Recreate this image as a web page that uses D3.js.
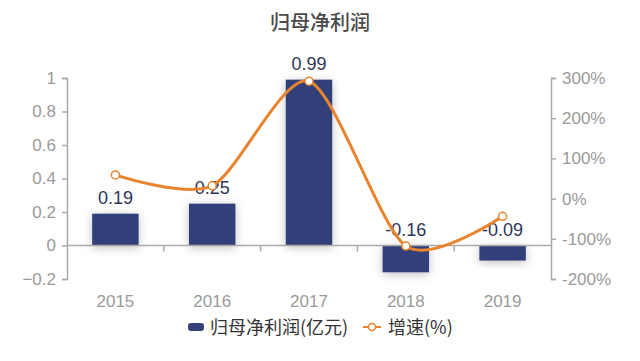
<!DOCTYPE html>
<html>
<head>
<meta charset="utf-8">
<script src="https://cdn.jsdelivr.net/npm/d3@7/dist/d3.min.js"></script>
<style>
  body { margin: 0; background: #fff; }
  text { font-family: "Liberation Sans", Arial, "Noto Sans CJK SC", sans-serif; }
</style>
</head>
<body>
<div id="chart"></div>
<script>
const years = ["2015", "2016", "2017", "2018", "2019"];
const profit = [0.19, 0.25, 0.99, -0.16, -0.09];
const growth = [59, 32, 292, -118, -44];
const leftTicks = [-0.2, 0, 0.2, 0.4, 0.6, 0.8, 1];
const rightTicks = [-200, -100, 0, 100, 200, 300];

const width = 640, height = 361;
const margin = { top: 78, right: 89, bottom: 82, left: 67 };
const innerW = width - margin.left - margin.right;
const innerH = height - margin.top - margin.bottom;

const barColor = "#33407a";
const lineColor = "#e8842e";
const axisColor = "#aaaaaa";
const tickText = "#9a9a9a";

const svg = d3.select("#chart")
    .append("svg")
    .attr("width", width)
    .attr("height", height);

// shadow for the bars
const defs = svg.append("defs");
const f = defs.append("filter").attr("id", "shadow")
    .attr("x", "-50%").attr("y", "-50%").attr("width", "200%").attr("height", "200%");
f.append("feDropShadow").attr("dx", 0).attr("dy", 2).attr("stdDeviation", 5)
    .attr("flood-color", "#000").attr("flood-opacity", 0.25);

svg.append("text")
    .attr("x", width / 2)
    .attr("y", 30)
    .attr("text-anchor", "middle")
    .style("font-family", "'Noto Sans CJK SC', sans-serif")
    .style("font-size", "20px")
    .style("font-weight", "500")
    .style("fill", "#4a4a4a")
    .text("归母净利润");

const g = svg.append("g")
    .attr("transform", `translate(${margin.left},${margin.top})`);

const x = d3.scaleBand().domain(years).range([0, innerW]);
const y = d3.scaleLinear().domain([-0.2, 1]).range([innerH, 0]);
const y2 = d3.scaleLinear().domain([-200, 300]).range([innerH, 0]);

// left axis
const yAxis = g.append("g")
    .call(d3.axisLeft(y).tickValues(leftTicks).tickSize(5).tickPadding(6)
        .tickFormat(d => d3.format("~g")(d)));
yAxis.selectAll("path, line").attr("stroke", axisColor).attr("stroke-width", 1.5);
yAxis.selectAll("text").style("font-size", "17px").style("fill", tickText);

// right axis
const y2Axis = g.append("g")
    .attr("transform", `translate(${innerW},0)`)
    .call(d3.axisRight(y2).tickValues(rightTicks).tickSize(5).tickPadding(6)
        .tickFormat(d => d + "%"));
y2Axis.selectAll("path, line").attr("stroke", axisColor).attr("stroke-width", 1.5);
y2Axis.selectAll("text").style("font-size", "17px").style("fill", tickText);

// bars
g.selectAll(".bar")
    .data(years)
    .enter().append("rect")
    .attr("class", "bar")
    .attr("x", (d, i) => x(d) + x.bandwidth() * 0.26)
    .attr("width", x.bandwidth() * 0.48)
    .attr("y", (d, i) => y(Math.max(0, profit[i])))
    .attr("height", (d, i) => Math.abs(y(profit[i]) - y(0)))
    .attr("fill", barColor)
    .attr("filter", "url(#shadow)");

// x axis at zero
g.append("line")
    .attr("x1", 0).attr("x2", innerW)
    .attr("y1", y(0)).attr("y2", y(0))
    .attr("stroke", axisColor).attr("stroke-width", 1.5);
g.selectAll(".xtick")
    .data(years.slice(1))
    .enter().append("line")
    .attr("x1", d => x(d)).attr("x2", d => x(d))
    .attr("y1", y(0)).attr("y2", y(0) + 6)
    .attr("stroke", axisColor).attr("stroke-width", 1.5);
g.selectAll(".xlabel")
    .data(years)
    .enter().append("text")
    .attr("x", d => x(d) + x.bandwidth() / 2)
    .attr("y", innerH + 28)
    .attr("text-anchor", "middle")
    .style("font-size", "17px")
    .style("fill", tickText)
    .text(d => d);

// bar labels
g.selectAll(".blabel")
    .data(years)
    .enter().append("text")
    .attr("x", d => x(d) + x.bandwidth() / 2)
    .attr("y", (d, i) => y(Math.max(0, profit[i])) - 10)
    .attr("text-anchor", "middle")
    .style("font-size", "18px")
    .style("fill", "#2e3558")
    .text((d, i) => profit[i].toFixed(2));

// growth line
const line = d3.line()
    .x((d, i) => x(years[i]) + x.bandwidth() / 2)
    .y(d => y2(d))
    .curve(d3.curveCardinal.tension(0.2));

g.append("path")
    .datum(growth)
    .attr("d", line)
    .attr("fill", "none")
    .attr("stroke", lineColor)
    .attr("stroke-width", 3);

g.selectAll(".dot")
    .data(growth)
    .enter().append("circle")
    .attr("cx", (d, i) => x(years[i]) + x.bandwidth() / 2)
    .attr("cy", d => y2(d))
    .attr("r", 4)
    .attr("fill", "#fff")
    .attr("stroke", lineColor)
    .attr("stroke-width", 1.5);

// legend
const legend = svg.append("g").attr("transform", "translate(0,327)");
legend.append("rect")
    .attr("x", 188).attr("y", -4)
    .attr("width", 16).attr("height", 8).attr("rx", 3)
    .attr("fill", barColor);
legend.append("text")
    .attr("x", 210).attr("y", 7)
    .style("font-family", "'Noto Sans CJK SC', sans-serif")
    .style("font-size", "18px")
    .style("fill", "#333")
    .text("归母净利润(亿元)");
legend.append("line")
    .attr("x1", 363).attr("x2", 381).attr("y1", 0).attr("y2", 0)
    .attr("stroke", lineColor).attr("stroke-width", 2);
legend.append("circle")
    .attr("cx", 372).attr("cy", 0).attr("r", 3.5)
    .attr("fill", "#fff").attr("stroke", lineColor).attr("stroke-width", 1.5);
legend.append("text")
    .attr("x", 388).attr("y", 7)
    .style("font-family", "'Noto Sans CJK SC', sans-serif")
    .style("font-size", "18px")
    .style("fill", "#333")
    .text("增速(%)");
</script>
</body>
</html>
